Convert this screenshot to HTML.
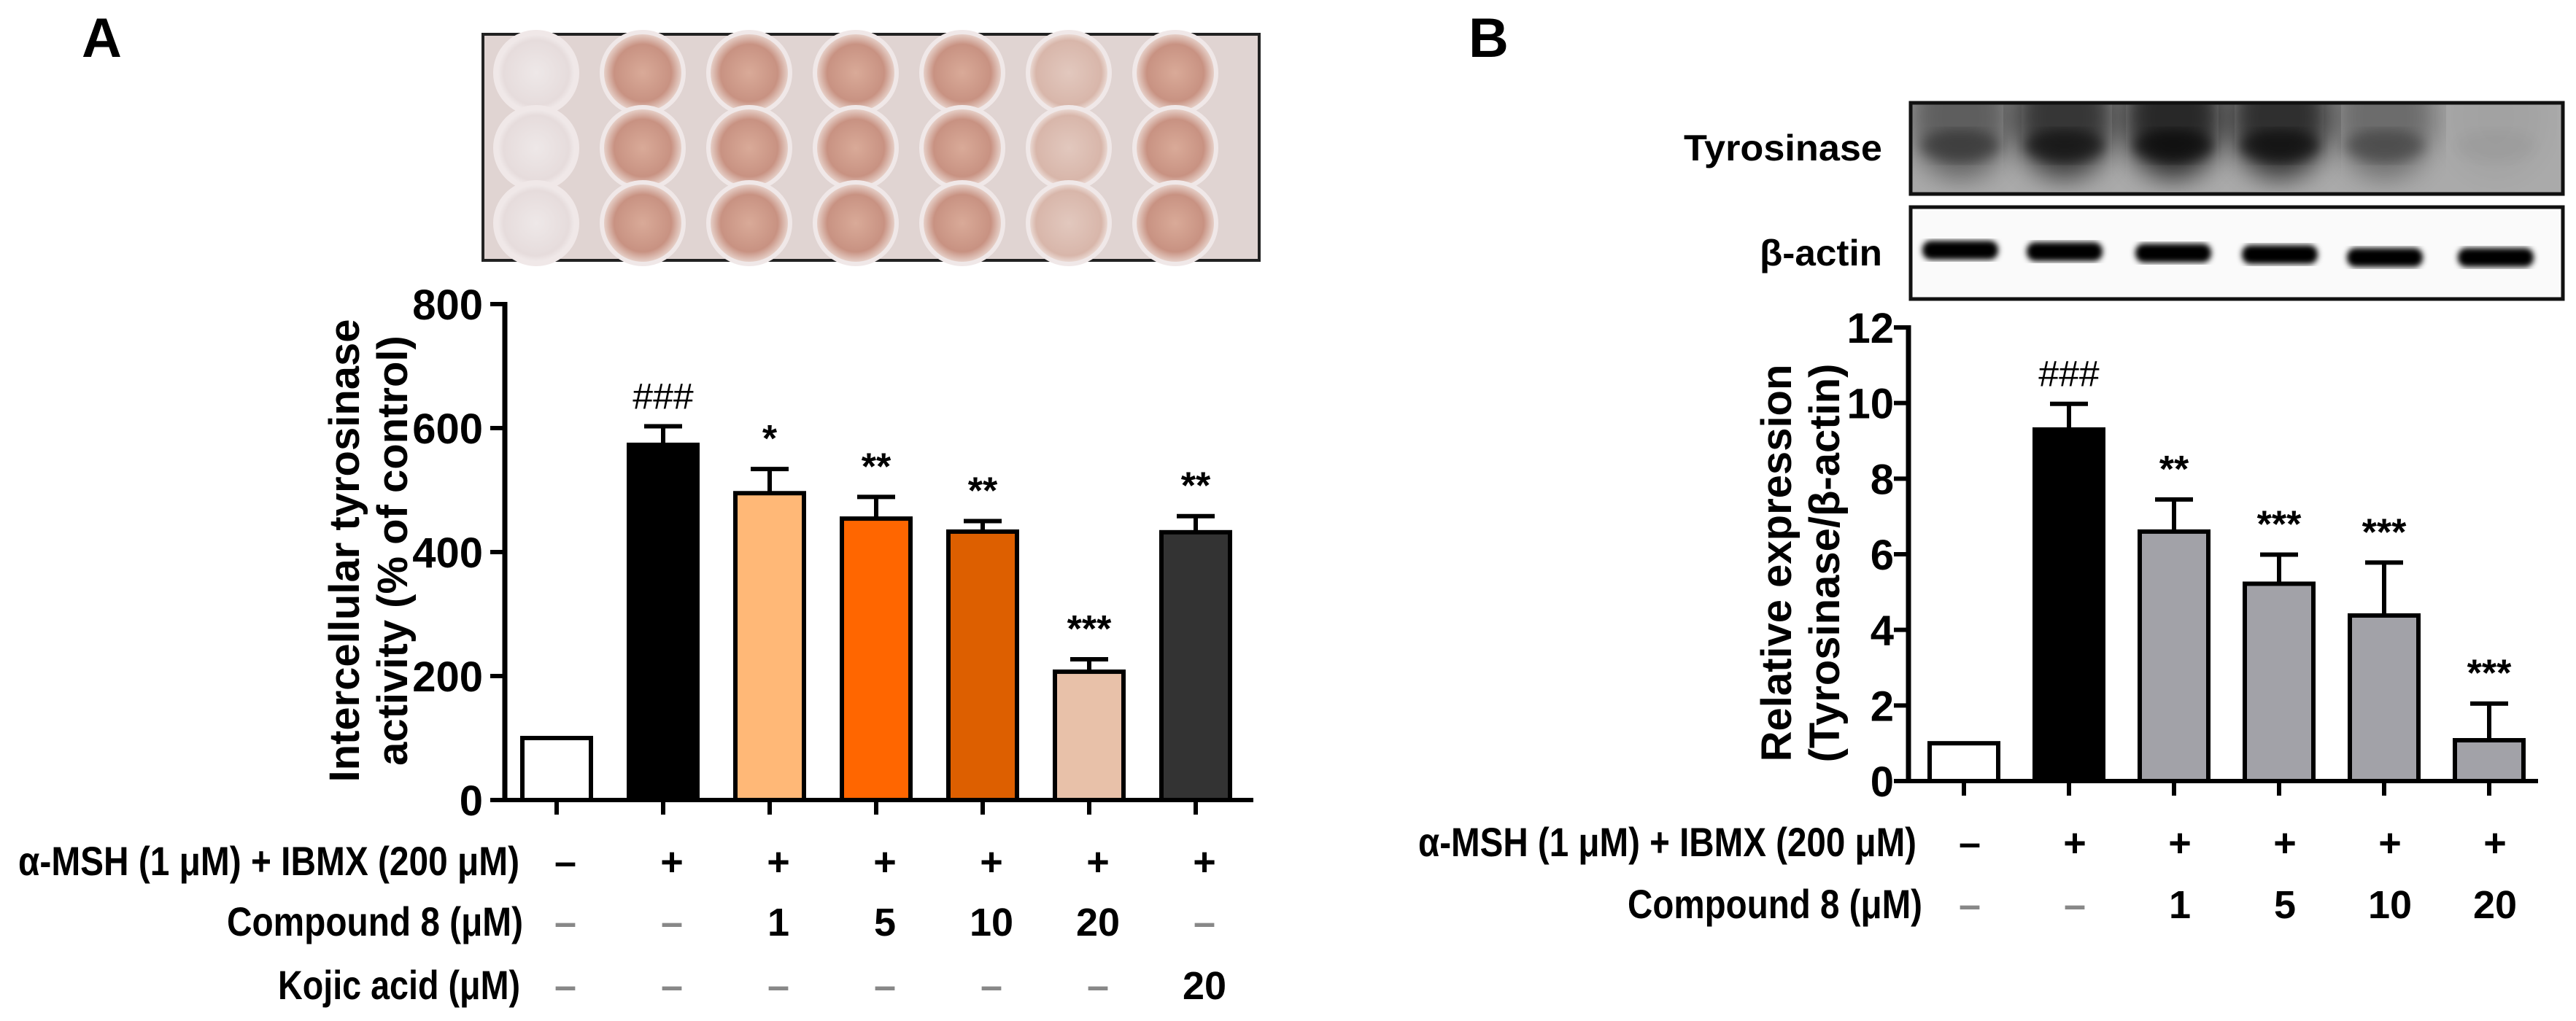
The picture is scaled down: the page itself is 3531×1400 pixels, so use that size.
<!DOCTYPE html>
<html><head><meta charset="utf-8"><style>
html,body{margin:0;padding:0;background:#fff;}
svg{display:block;font-family:"Liberation Sans",Arial,sans-serif;}
</style></head><body>
<svg id="fig" width="3531" height="1400" viewBox="0 0 3531 1400" xmlns="http://www.w3.org/2000/svg">
<defs>
<filter id="blur8"><feGaussianBlur stdDeviation="8"/></filter>
<filter id="blur20"><feGaussianBlur stdDeviation="18"/></filter>
<filter id="blur4"><feGaussianBlur stdDeviation="4"/></filter>
<radialGradient id="well" cx="50%" cy="50%" r="50%">
<stop offset="0%" stop-color="#d9aa98"/><stop offset="70%" stop-color="#c89282"/><stop offset="100%" stop-color="#ecdcd6"/></radialGradient>
<radialGradient id="wellPale" cx="50%" cy="50%" r="50%">
<stop offset="0%" stop-color="#eee8e8"/><stop offset="80%" stop-color="#e6dcdc"/><stop offset="100%" stop-color="#f4eeee"/></radialGradient>
<radialGradient id="wellLight" cx="50%" cy="50%" r="50%">
<stop offset="0%" stop-color="#e2c8be"/><stop offset="80%" stop-color="#d8b6aa"/><stop offset="100%" stop-color="#f0e4e0"/></radialGradient>
<clipPath id="tyrClip"><rect x="2619" y="141" width="894" height="125"/></clipPath>
<clipPath id="actClip"><rect x="2619" y="284" width="894" height="126"/></clipPath>
</defs>

<text x="112" y="78" font-size="76" font-weight="bold">A</text>
<text x="2013" y="78" font-size="76" font-weight="bold">B</text>

<g>
<rect x="662" y="47" width="1064" height="310" fill="#e0d4d2" stroke="#222" stroke-width="4"/>
<g id="wells"></g>
</g>

<g>
<text x="2580" y="220" font-size="50" font-weight="bold" text-anchor="end" textLength="272" lengthAdjust="spacingAndGlyphs">Tyrosinase</text>
<text x="2580" y="364" font-size="50" font-weight="bold" text-anchor="end" textLength="168" lengthAdjust="spacingAndGlyphs">β-actin</text>
<rect x="2619" y="141" width="894" height="125" fill="#aaaaaa"/>
<g clip-path="url(#tyrClip)" id="tyrBands"></g>
<rect x="2619" y="141" width="894" height="125" fill="none" stroke="#111" stroke-width="5"/>
<rect x="2619" y="284" width="894" height="126" fill="#fafafa"/>
<g clip-path="url(#actClip)" id="actBands"></g>
<rect x="2619" y="284" width="894" height="126" fill="none" stroke="#111" stroke-width="5"/>
</g>

<g id="chartA"></g>
<g id="chartB"></g>
</svg>
<script>
// ---------- Chart A data ----------
const catsA = ["control","msh","c1","c5","c10","c20","kojic"];
const valsA = [100, 573, 495, 454, 433, 207, 432];
const errsA = [0, 30, 39, 35, 17, 20, 26];
const sigA = ["", "###", "*", "**", "**", "***", "**"];
const ticksA = [0, 200, 400, 600, 800];
const colorsA = ["#ffffff","#000000","#ffb877","#ff6600","#dd5f00","#e8c1a9","#333333"];
const rowMshA = ["–","+","+","+","+","+","+"];
const rowCmpA = ["–","–","1","5","10","20","–"];
const rowKojA = ["–","–","–","–","–","–","20"];
// ---------- Chart B data ----------
const catsB = ["control","msh","c1","c5","c10","c20"];
const valsB = [1.0, 9.3, 6.6, 5.22, 4.38, 1.08];
const errsB = [0, 0.68, 0.85, 0.77, 1.4, 0.97];
const sigB = ["", "###", "**", "***", "***", "***"];
const ticksB = [0, 2, 4, 6, 8, 10, 12];
const colorsB = ["#ffffff","#000000","#a2a2a8","#a2a2a8","#a2a2a8","#a2a2a8"];
const rowMshB = ["–","+","+","+","+","+"];
const rowCmpB = ["–","–","1","5","10","20"];
const tyrIntensity = [0.55, 0.85, 0.95, 0.9, 0.45, 0.05];
const actIntensity = [1, 1, 1, 1, 1, 1];
const wellTone = ["pale","dark","dark","dark","dark","light","dark"];

const NS = "http://www.w3.org/2000/svg";
function mk(tag, attrs, parent){const e=document.createElementNS(NS,tag);for(const k in attrs)e.setAttribute(k,attrs[k]);parent.appendChild(e);return e;}

const wg=document.getElementById('wells');
for(let r=0;r<3;r++){for(let c=0;c<7;c++){
  const t=wellTone[c];
  const w=mk('circle',{cx:735+c*146,cy:100+r*103,r:56,fill:t==="pale"?"url(#wellPale)":t==="light"?"url(#wellLight)":"url(#well)",stroke:"#f0e8e8","stroke-width":6},wg);
  
  
}}
const tb=document.getElementById('tyrBands');
const laneX=[2687,2830,2979,3125,3269,3421];
tyrIntensity.forEach((v,i)=>{
  const b=mk('ellipse',{cx:laneX[i],cy:160,rx:70,ry:85,fill:"#000",opacity:v*0.8,filter:"url(#blur20)"},tb);
  
  
  mk('ellipse',{cx:laneX[i],cy:200,rx:55,ry:22,fill:"#000",opacity:v*0.6,filter:"url(#blur8)"},tb);
});
const ab=document.getElementById('actBands');
actIntensity.forEach((v,i)=>{
  const b=mk('rect',{x:laneX[i]-52,y:330+(i>=4?10:i*2),width:104,height:26,rx:12,fill:"#000",opacity:v,filter:"url(#blur4)"},ab);
  
  
});

function drawChart(g, cfg){
  const {cats,vals,errs,sig,ticks,colors,x0,y0,yTop,vMax,xEnd,c0,step,bw,tickLblX,rows,rowLblX,rowYs,rowNames,rowLens,titleLines,titleXs,titleY,shift} = cfg;
  const ys = v => y0 - (v/vMax)*(y0-yTop);
  const xs = i => c0 + i*step;
  cats.forEach((c,i)=>{
    const top=ys(vals[i]);
    const r=mk('rect',{x:xs(i)-bw/2,y:top,width:bw,height:y0-top,fill:colors[i],stroke:"#000","stroke-width":6},g);
    
    
    if(errs[i]>0){
      const et=ys(vals[i]+errs[i]);
      const l=mk('line',{x1:xs(i),x2:xs(i),y1:top,y2:et,stroke:"#000","stroke-width":6},g);
      
      
      mk('line',{x1:xs(i)-26,x2:xs(i)+26,y1:et,y2:et,stroke:"#000","stroke-width":6},g);
    }
    if(sig[i]){
      const t=mk('text',{x:xs(i),y:ys(vals[i]+errs[i])-24,"font-size":sig[i][0]==="#"?50:52,"font-weight":sig[i][0]==="#"?"normal":"bold","text-anchor":"middle"},g);
      t.textContent=sig[i];
      
      
    }
    const tk=mk('line',{x1:xs(i),x2:xs(i),y1:y0,y2:y0+20,stroke:"#000","stroke-width":6},g);
    
    
  });
  const ya=mk('line',{x1:x0,x2:x0,y1:yTop-3,y2:y0+3,stroke:"#000","stroke-width":7},g);
  
  
  const xa=mk('line',{x1:x0-20,x2:xEnd,y1:y0,y2:y0,stroke:"#000","stroke-width":6},g);
  
  
  ticks.forEach(t=>{
    mk('line',{x1:x0-20,x2:x0,y1:ys(t),y2:ys(t),stroke:"#000","stroke-width":6},g);
    const l=mk('text',{x:tickLblX,y:ys(t)+21,"font-size":58,"font-weight":"bold","text-anchor":"end"},g);
    l.textContent=t;
    
    
  });
  titleLines.forEach((s,k)=>{
    const t=mk('text',{x:0,y:0,"font-size":58,"font-weight":"bold","text-anchor":"middle",transform:`translate(${titleXs[k]},${titleY}) rotate(-90)`},g);
    t.textContent=s;
    
    
  });
  rows.forEach((row,ri)=>{
    const lab=mk('text',{x:rowLblX[ri],y:rowYs[ri]+20,"font-size":56,"font-weight":"bold","text-anchor":"end",textLength:rowLens[ri],lengthAdjust:"spacingAndGlyphs"},g);
    lab.textContent=rowNames[ri];
    
    
    row.forEach((v,i)=>{
      const t=mk('text',{x:xs(i)+shift,y:rowYs[ri]+20,"font-size":54,"font-weight":"bold","text-anchor":"middle",fill:v==="–"&&ri>0?"#888":"#000"},g);
      t.textContent=v;
      
      
    });
  });
}

drawChart(document.getElementById('chartA'),{
  cats:catsA,vals:valsA,errs:errsA,sig:sigA,ticks:ticksA,colors:colorsA,
  x0:692,y0:1097,yTop:417,vMax:800,xEnd:1718,c0:763,step:146,bw:94,tickLblX:662,
  rows:[rowMshA,rowCmpA,rowKojA],rowLblX:[712,717,713],rowYs:[1180,1263,1350],rowLens:[687,406,332],
  rowNames:["α-MSH (1 μM) + IBMX (200 μM)","Compound 8 (μM)","Kojic acid (μM)"],
  titleLines:["Intercellular tyrosinase","activity (% of control)"],titleXs:[492,558],titleY:755,shift:12
});
drawChart(document.getElementById('chartB'),{
  cats:catsB,vals:valsB,errs:errsB,sig:sigB,ticks:ticksB,colors:colorsB,
  x0:2616,y0:1071,yTop:449,vMax:12,xEnd:3479,c0:2692,step:144,bw:94,tickLblX:2596,
  rows:[rowMshB,rowCmpB],rowLblX:[2627,2635],rowYs:[1154,1239],rowLens:[683,404],
  rowNames:["α-MSH (1 μM) + IBMX (200 μM)","Compound 8 (μM)"],
  titleLines:["Relative expression","(Tyrosinase/β-actin)"],titleXs:[2455,2521],titleY:772,shift:8
});
</script>
</body></html>
